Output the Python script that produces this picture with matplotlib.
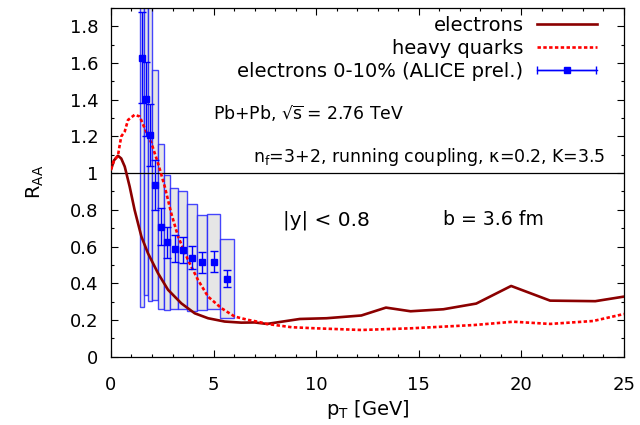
import matplotlib
matplotlib.use('Agg')
import matplotlib.pyplot as plt
from matplotlib.patches import Rectangle
from matplotlib.legend_handler import HandlerErrorbar
import numpy as np

plt.rcParams['font.family'] = ['DejaVu Sans']
plt.rcParams['mathtext.fontset'] = 'dejavusans'
plt.rcParams['mathtext.default'] = 'regular'

# theory curves
pt_electrons = [0.0, 0.15, 0.34, 0.5, 0.67, 0.91, 1.15, 1.48, 1.8, 2.29, 2.78, 3.43,
                4.08, 4.73, 5.54, 6.35, 7.0, 7.6, 9.2, 10.5, 12.2, 13.4, 14.6, 16.2,
                17.8, 19.5, 21.4, 23.6, 25.0]
raa_electrons = [1.02, 1.07, 1.095, 1.08, 1.036, 0.927, 0.80, 0.655, 0.564, 0.455, 0.364, 0.29,
                 0.236, 0.209, 0.191, 0.185, 0.186, 0.178, 0.205, 0.209, 0.224, 0.267, 0.247, 0.258,
                 0.289, 0.385, 0.305, 0.302, 0.327]

pt_quarks = [0.0, 0.15, 0.34, 0.42, 0.5, 0.67, 0.83, 1.15, 1.4, 1.64, 1.97, 2.29, 2.62,
             2.94, 3.27, 3.75, 4.24, 4.73, 5.38, 6.03, 6.68, 7.16, 7.6, 8.8, 10.0, 12.2,
             14.6, 17.7, 19.6, 21.4, 23.5, 25.0]
raa_quarks = [1.02, 1.07, 1.095, 1.15, 1.20, 1.227, 1.29, 1.318, 1.309, 1.245, 1.164, 1.055, 0.927,
              0.78, 0.655, 0.527, 0.418, 0.327, 0.264, 0.218, 0.20, 0.19, 0.178, 0.16, 0.154, 0.145,
              0.154, 0.172, 0.19, 0.178, 0.194, 0.232]

# ALICE preliminary, 0-10%
pt_alice = [1.5, 1.69, 1.9, 2.14, 2.42, 2.75, 3.12, 3.51, 3.95, 4.43, 5.0, 5.64]
raa_alice = [1.63, 1.405, 1.209, 0.936, 0.709, 0.622, 0.589, 0.582, 0.54, 0.513, 0.518, 0.425]
stat_alice = [0.25, 0.2, 0.17, 0.136, 0.1, 0.082, 0.075, 0.07, 0.065, 0.057, 0.058, 0.047]
sys_alice = [1.36, 1.068, 0.905, 0.625, 0.45, 0.37, 0.33, 0.32, 0.29, 0.26, 0.26, 0.215]
bin_lo = [1.40, 1.59, 1.79, 1.98, 2.29, 2.58, 2.89, 3.27, 3.69, 4.19, 4.69, 5.30]
bin_hi = [1.59, 1.79, 1.98, 2.29, 2.58, 2.89, 3.27, 3.69, 4.19, 4.69, 5.30, 6.00]

fig = plt.figure(figsize=(6.4, 4.25), dpi=100)
ax = fig.add_axes([0.1734, 0.161, 0.975 - 0.1734, 0.981 - 0.161])

for lo, hi, y, s in zip(bin_lo, bin_hi, raa_alice, sys_alice):
    ax.add_patch(Rectangle((lo, y - s), hi - lo, 2 * s, facecolor='#e6e6e6',
                           edgecolor=(0.1, 0.1, 1.0, 0.8), linewidth=1.0, zorder=1))

ax.axhline(1.0, color='black', linewidth=0.9, zorder=2)

ax.plot(pt_electrons, raa_electrons, color='#8b0000', linewidth=1.9, zorder=3,
        label='electrons')
ax.plot(pt_quarks, raa_quarks, color='#ff0000', linewidth=1.9, linestyle=(0, (1.3, 0.9)),
        zorder=3, label='heavy quarks')
ax.errorbar(pt_alice, raa_alice, yerr=stat_alice, fmt='s', color='#0000ff', markersize=5,
            elinewidth=1.0, capsize=3, capthick=1.0, zorder=4)

# legend proxy with horizontal bar, gnuplot style
proxy = ax.errorbar([np.nan], [np.nan], xerr=[1.0], fmt='s-', color='#0000ff', markersize=5,
                    linewidth=1.0, capsize=3, label='electrons 0-10% (ALICE prel.)')

hl = 3.1
leg = ax.legend(loc='upper right', bbox_to_anchor=(0.947, 0.978), frameon=False,
                markerfirst=False, fontsize=14,
                handlelength=hl, handletextpad=0.67, labelspacing=0.22,
                borderaxespad=0.0, borderpad=0.0,
                handler_map={type(proxy): HandlerErrorbar(xerr_size=hl / 2 * 0.98)})

ax.text(4.95, 1.29, 'Pb+Pb, √$\\overline{s}$ = 2.76 TeV', fontsize=12.4)
ax.text(24.1, 1.06, r'n$_{f}$=3+2, running coupling, $\kappa$=0.2, K=3.5',
        fontsize=12.5, ha='right')
ax.text(8.4, 0.717, '|y| < 0.8', fontsize=14.5)
ax.text(16.2, 0.717, 'b = 3.6 fm', fontsize=13.6)

ax.set_xlim(0, 25)
ax.set_ylim(0, 1.9)
ax.set_xticks(np.arange(0, 26, 5))
ax.set_xticks(np.arange(0, 26, 1), minor=True)
ax.set_yticks(np.arange(0, 1.81, 0.2))
ax.set_yticks(np.arange(0, 1.91, 0.1), minor=True)
ax.set_yticklabels(['0', '0.2', '0.4', '0.6', '0.8', '1', '1.2', '1.4', '1.6', '1.8'])
ax.tick_params(which='both', direction='in', top=True, right=True, labelsize=13, width=0.8)
ax.tick_params(axis='x', which='major', length=5, pad=14)
ax.tick_params(axis='y', which='major', length=5, pad=9)
ax.tick_params(which='minor', length=2.5)
for sp in ax.spines.values():
    sp.set_linewidth(0.9)

ax.set_xlabel(r'p$_{T}$ [GeV]', fontsize=14, labelpad=3)
ax.set_ylabel(r'R$_{AA}$', fontsize=14, labelpad=17)

fig.savefig('out.png', dpi=100)
